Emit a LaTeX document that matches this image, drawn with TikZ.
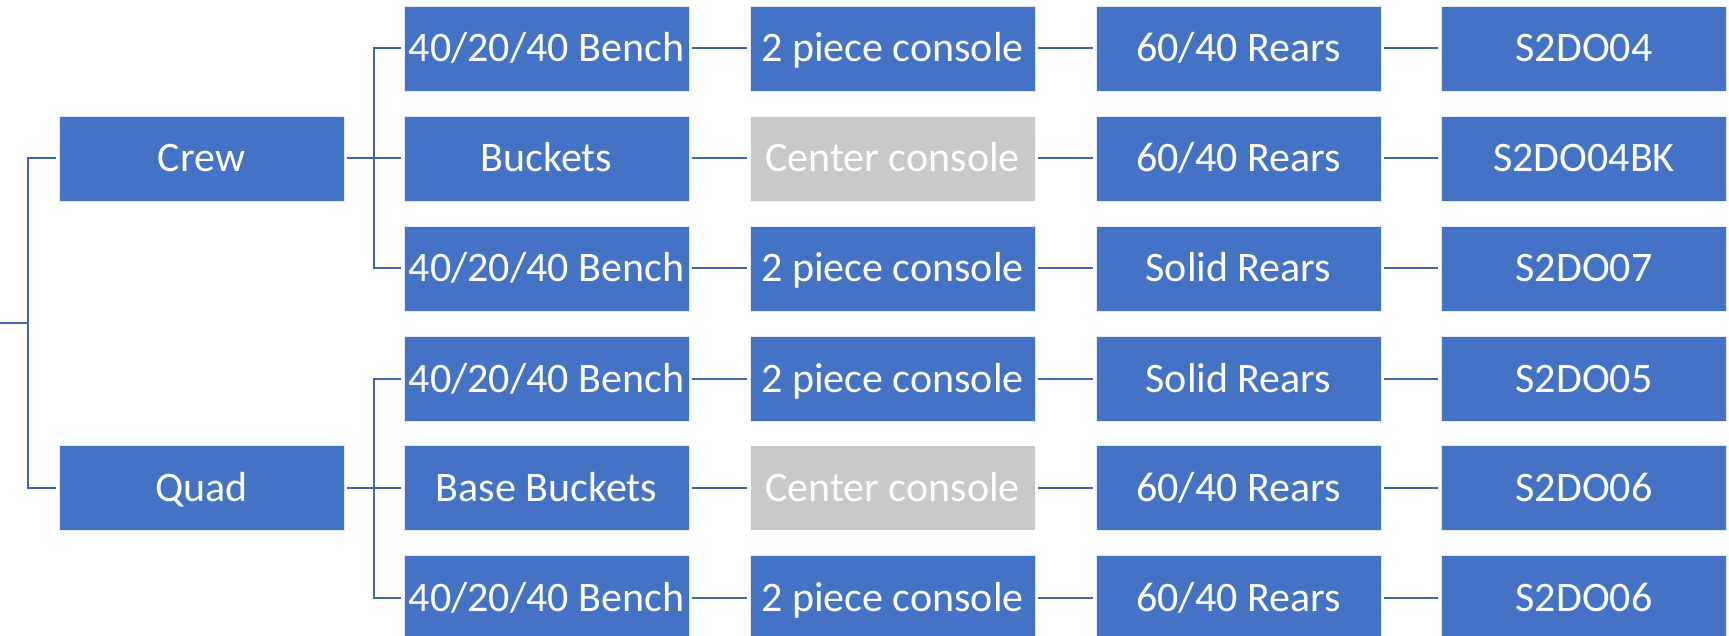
\documentclass[tikz,border=0pt]{standalone}
\usepackage{fontspec}
\setmainfont{Carlito}
\definecolor{boxblue}{HTML}{4472C4}
\definecolor{boxgray}{HTML}{C9C9C9}
\definecolor{linkblue}{HTML}{3F65AE}
\begin{document}
\begin{tikzpicture}[x=0.5pt,y=-0.5pt,
  cell/.style={rectangle,fill=boxblue,draw=white!85!boxblue,line width=0.4pt,minimum width=142.5pt,minimum height=42.5pt,inner sep=0pt,text=white,font=\fontsize{21pt}{24pt}\selectfont,text height=16pt,text depth=2.5pt,anchor=center},
  graycell/.style={cell,fill=boxgray,draw=white!90!boxgray},
  link/.style={draw=linkblue,line width=1pt}]
\useasboundingbox (0,0) rectangle (1729,636);
% level 1
\node[cell] (crew) at (201.5,158.5) {Crew};
\node[cell] (quad) at (201.5,487.5) {Quad};
% level 2..5 rows
\def\ca{546.5}\def\cb{892.5}\def\cc{1238.5}\def\cd{1584}
\node[cell] (a1) at (\ca,48.5) {40/20/40 Bench};
\node[cell] (b1) at (\cb,48.5) {2 piece console};
\node[cell] (c1) at (\cc,48.5) {60/40 Rears};
\node[cell] (d1) at (\cd,48.5) {S2DO04};
\node[cell] (a2) at (\ca,158.5) {Buckets};
\node[graycell] (b2) at (\cb,158.5) {Center console};
\node[cell] (c2) at (\cc,158.5) {60/40 Rears};
\node[cell] (d2) at (\cd,158.5) {S2DO04BK};
\node[cell] (a3) at (\ca,268.5) {40/20/40 Bench};
\node[cell] (b3) at (\cb,268.5) {2 piece console};
\node[cell] (c3) at (\cc,268.5) {Solid Rears};
\node[cell] (d3) at (\cd,268.5) {S2DO07};
\node[cell] (a4) at (\ca,378.5) {40/20/40 Bench};
\node[cell] (b4) at (\cb,378.5) {2 piece console};
\node[cell] (c4) at (\cc,378.5) {Solid Rears};
\node[cell] (d4) at (\cd,378.5) {S2DO05};
\node[cell] (a5) at (\ca,487.5) {Base Buckets};
\node[graycell] (b5) at (\cb,487.5) {Center console};
\node[cell] (c5) at (\cc,487.5) {60/40 Rears};
\node[cell] (d5) at (\cd,487.5) {S2DO06};
\node[cell] (a6) at (\ca,597.5) {40/20/40 Bench};
\node[cell] (b6) at (\cb,597.5) {2 piece console};
\node[cell] (c6) at (\cc,597.5) {60/40 Rears};
\node[cell] (d6) at (\cd,597.5) {S2DO06};
% root connector
\coordinate (root) at (0,323);
\draw[link] (root) -- (28,323);
\draw[link] ([xshift=-1.5pt]crew.west) -| (28,323) |- ([xshift=-1.5pt]quad.west);
% level-2 connectors
\foreach \p/\r in {crew/a1,crew/a2,crew/a3,quad/a4,quad/a5,quad/a6}{
  \draw[link] ([xshift=1.5pt]\p.east) -- ([xshift=15pt]\p.east) |- ([xshift=-1.5pt]\r.west);
}
% row connectors
\foreach \i in {1,...,6}{
  \draw[link] ([xshift=1.5pt]a\i.east) -- ([xshift=-1.5pt]b\i.west);
  \draw[link] ([xshift=1.5pt]b\i.east) -- ([xshift=-1.5pt]c\i.west);
  \draw[link] ([xshift=1.5pt]c\i.east) -- ([xshift=-1.5pt]d\i.west);
}
\end{tikzpicture}
\end{document}
